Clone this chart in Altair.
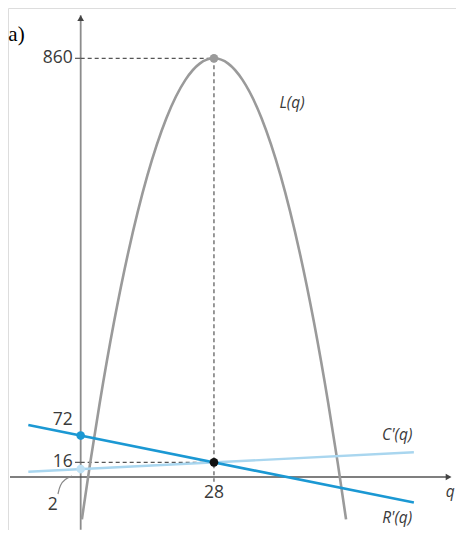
import altair as alt
import pandas as pd

# ---- data ----
q_L = [0.25, 2, 4, 7, 10, 14, 18, 22, 25, 28, 31, 34, 38, 42, 46, 49, 52, 54, 55.75]
L_vals = [-103, 15, 140, 309, 455, 615, 735, 815, 849, 860, 849, 815, 735, 615, 455, 309, 140, 15, -103]

q_lines = [-11, 70]
Rp_vals = [94, -68]
Cp_vals = [-3.5, 37]

q_opt = 28
L_max = 860
mc = 16
R0 = 72
C0 = 2
x_axis_level = -14.6

xs = alt.Scale(domain=[-15.27, 78.85], nice=False, zero=False)
ys = alt.Scale(domain=[-125.3, 965.1], nice=False, zero=False)

def X(f="x"):
    return alt.X(f"{f}:Q", scale=xs, axis=None)

def Y(f="y"):
    return alt.Y(f"{f}:Q", scale=ys, axis=None)

# axes
yaxis_df = pd.DataFrame({"x": [0], "y": [-125], "y2": [950]})
yaxis = alt.Chart(yaxis_df).mark_rule(color="#8c8c8c", strokeWidth=1.8).encode(
    x=X(), y=Y(), y2="y2:Q")
xaxis_df = pd.DataFrame({"x": [-14.85], "x2": [77.5], "y": [x_axis_level]})
xaxis = alt.Chart(xaxis_df).mark_rule(color="#555555", strokeWidth=1.3).encode(
    x=X(), x2="x2:Q", y=Y())
arrow_up = alt.Chart(pd.DataFrame({"x": [0], "y": [944]})).mark_point(
    shape="triangle-up", filled=True, color="#444444", size=45, opacity=1).encode(x=X(), y=Y())
arrow_right = alt.Chart(pd.DataFrame({"x": [77.3], "y": [x_axis_level]})).mark_point(
    shape="triangle-right", filled=True, color="#444444", size=45, opacity=1).encode(x=X(), y=Y())

# dashed guides
dash_df = pd.DataFrame({
    "x": [0, q_opt, 0],
    "x2": [q_opt, q_opt, q_opt],
    "y": [L_max, L_max, mc],
    "y2": [L_max, x_axis_level - 10, mc],
})
dashes = alt.Chart(dash_df).mark_rule(color="#555555", strokeWidth=1.2, strokeDash=[4, 3]).encode(
    x=X(), x2="x2:Q", y=Y(), y2="y2:Q")

tick_df = pd.DataFrame({"x": [-1.2, -1.2], "x2": [0, 0], "y": [L_max, mc]})
ticks = alt.Chart(tick_df).mark_rule(color="#555555", strokeWidth=1.2).encode(
    x=X(), x2="x2:Q", y=Y())

# parabola L(q)
L_df = pd.DataFrame({"x": q_L, "y": L_vals})
parab = alt.Chart(L_df).mark_line(color="#9a9a9a", strokeWidth=2.6, interpolate="monotone").encode(
    x=X(), y=Y(), order="x:Q")

# marginal lines
lines_df = pd.DataFrame({
    "x": q_lines * 2,
    "y": Rp_vals + Cp_vals,
    "s": ["R", "R", "C", "C"],
})
Cline = alt.Chart(lines_df[lines_df.s == "C"]).mark_line(color="#a9d6ef", strokeWidth=2.4).encode(
    x=X(), y=Y())
Rline = alt.Chart(lines_df[lines_df.s == "R"]).mark_line(color="#1b98d3", strokeWidth=2.6).encode(
    x=X(), y=Y())

# points
pts_df = pd.DataFrame({
    "x": [q_opt, 0, 0, q_opt],
    "y": [L_max, R0, C0, mc],
    "c": ["#9a9a9a", "#1b98d3", "#bfe1f4", "#111111"],
})
pts = alt.Chart(pts_df).mark_point(filled=True, size=75, opacity=1).encode(
    x=X(), y=Y(), color=alt.Color("c:N", scale=None))

# small curved arrow from "2"
curve_df = pd.DataFrame({"x": [-4.77, -4.35, -3.3, -1.83], "y": [-50.1, -31.3, -18.8, -12.5]})
curve = alt.Chart(curve_df).mark_line(color="#888888", strokeWidth=1.2, interpolate="basis").encode(
    x=X(), y=Y(), order=alt.Order("y:Q"))

# texts
font = "Open Sans"
tcol = "#3a3a3a"
nfs = 17.5
lab_right = alt.Chart(pd.DataFrame({"x": [0, 0], "y": [L_max, mc], "t": ["860", "16"]})).mark_text(
    align="right", baseline="middle", dx=-8, fontSize=nfs, font=font, color=tcol).encode(
    x=X(), y=Y(), text="t:N")
lab72 = alt.Chart(pd.DataFrame({"x": [0], "y": [R0], "t": ["72"]})).mark_text(
    align="center", baseline="middle", dx=-18, dy=-16, fontSize=nfs, font=font, color=tcol).encode(
    x=X(), y=Y(), text="t:N")
lab2 = alt.Chart(pd.DataFrame({"x": [0], "y": [C0], "t": ["2"]})).mark_text(
    align="center", baseline="middle", dx=-28, dy=36, fontSize=nfs, font=font, color=tcol).encode(
    x=X(), y=Y(), text="t:N")
lab28 = alt.Chart(pd.DataFrame({"x": [q_opt], "y": [x_axis_level], "t": ["28"]})).mark_text(
    align="center", baseline="middle", dy=16, fontSize=nfs, font=font, color=tcol).encode(
    x=X(), y=Y(), text="t:N")
fn_df = pd.DataFrame({"x": [44.4, 66.5, 66.5], "y": [766.6, 73, -100],
                      "t": ["L(q)", "C'(q)", "R'(q)"]})
fnlab = alt.Chart(fn_df).mark_text(
    align="center", baseline="middle", fontSize=15.5, font=font, fontStyle="italic", color=tcol).encode(
    x=X(), y=Y(), text="t:N")
qlab = alt.Chart(pd.DataFrame({"x": [78.6], "y": [-45], "t": ["q"]})).mark_text(
    align="right", baseline="middle", fontSize=15.5, font=font, fontStyle="italic", color=tcol).encode(
    x=X(), y=Y(), text="t:N")
lab_a = alt.Chart(pd.DataFrame({"x": [-15.2], "y": [908.7], "t": ["a)"]})).mark_text(
    align="left", baseline="middle", fontSize=21, font="Liberation Serif", color="#000000").encode(
    x=X(), y=Y(), text="t:N")

chart = alt.layer(
    yaxis, xaxis, arrow_up, arrow_right, dashes, ticks, parab, Cline, Rline, curve, pts,
    lab_right, lab72, lab2, lab28, fnlab, qlab, lab_a,
).properties(
    width=448, height=522, autosize=alt.AutoSizeParams(type="none"), padding=0
).configure_view(stroke=None).configure(background="white")

chart.save("out.html", embed_options={"renderer": "svg", "actions": False})
